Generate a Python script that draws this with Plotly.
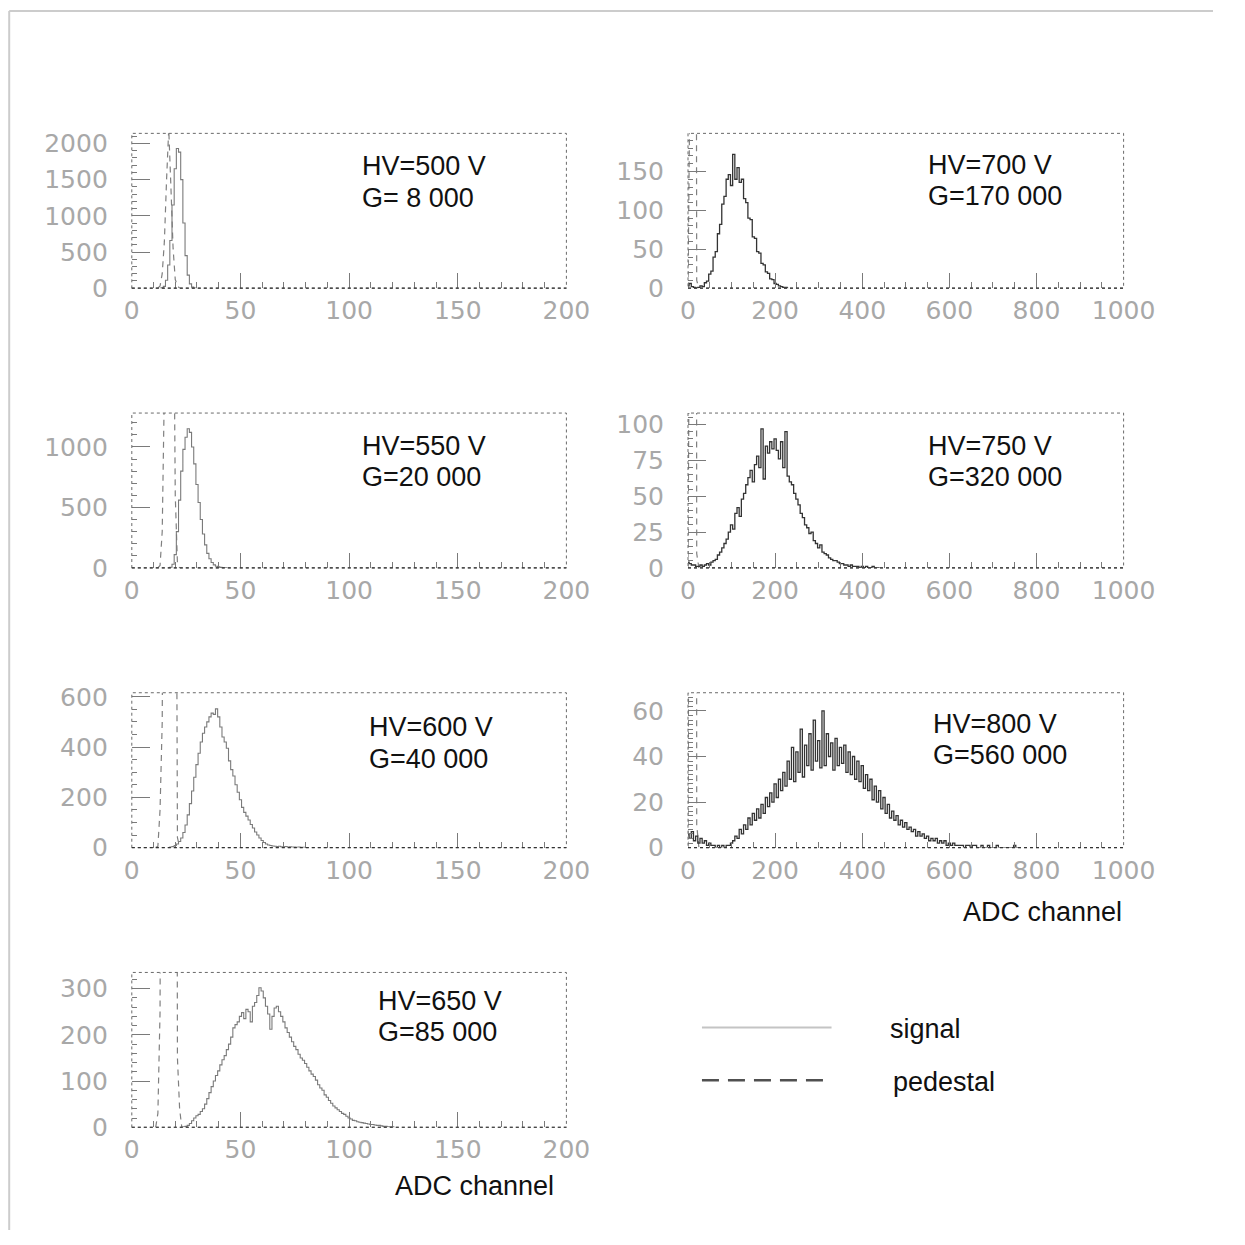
import plotly.graph_objects as go

W, H = 1245, 1245

# ---------------- data (counts per bin) ----------------
# left panels: 1-channel bins ; right panels: 5-channel bins
sig500_start = 13
sig500 = [0, 5, 25, 110, 320, 660, 1150, 1650, 1930, 1880, 1500, 900, 450, 180, 60, 15, 3, 0]
ped500_start = 12
ped500 = [0, 30, 200, 650, 1500, 2200, 1400, 550, 120, 30, 0]

sig550_start = 17
sig550 = [0, 5, 30, 110, 300, 560, 800, 980, 1080, 1150, 1120, 1000, 860, 690, 540, 400, 280, 190,
          120, 75, 45, 25, 14, 8, 4, 2, 1, 0]
ped550_start = 12
ped550 = [0, 20, 300, 1500, 4000, 6000, 5500, 3000, 600, 40, 0]

sig600_start = 17
sig600 = [0, 2, 4, 8, 14, 24, 38, 60, 90, 130, 175, 225, 280, 330, 375, 420, 455, 480, 500, 520, 535,
          530, 552, 520, 480, 440, 420, 395, 345, 310, 285, 250, 220, 190, 160, 140, 125, 110, 92,
          78, 62, 50, 38, 28, 20, 14, 10, 8, 6, 5, 4, 5, 3, 3, 4, 2, 3, 2, 2, 1, 2, 1, 1, 0]
ped600_start = 11
ped600 = [0, 5, 150, 500, 2500, 6000, 7000, 6000, 4000, 2500, 40, 0]

sig650_start = 23
sig650 = [0, 1, 2, 4, 8, 14, 20, 25, 28, 34, 40, 50, 62, 75, 88, 100, 112, 122, 135, 146, 155, 168,
          180, 195, 215, 222, 228, 240, 248, 235, 255, 250, 228, 262, 270, 285, 302, 295, 280, 262,
          245, 212, 240, 258, 262, 250, 240, 228, 215, 205, 195, 185, 175, 168, 158, 150, 145, 138,
          130, 122, 115, 110, 102, 92, 85, 80, 70, 65, 58, 52, 46, 42, 38, 34, 30, 28, 24, 20, 18,
          15, 14, 12, 11, 10, 9, 8, 7, 6, 6, 5, 4, 4, 3, 2, 2, 1, 1, 1, 0]
ped650_start = 11
ped650 = [0, 30, 250, 2000, 5000, 7000, 7000, 6000, 4500, 3000, 150, 40, 0]

sig700 = [3, 6, 2, 1, 0, 1, 3, 2, 7, 9, 18, 22, 40, 47, 70, 82, 108, 118, 140, 146, 132, 172, 140,
          155, 136, 140, 115, 110, 90, 88, 66, 64, 47, 45, 32, 30, 21, 19, 12, 11, 6, 5, 3, 2, 1, 1, 0]
sig750 = [4, 3, 2, 2, 1, 1, 2, 1, 2, 3, 2, 4, 5, 6, 9, 11, 14, 17, 20, 25, 30, 27, 38, 42, 36, 48,
          52, 58, 63, 68, 60, 72, 78, 70, 97, 62, 85, 80, 88, 83, 90, 82, 76, 88, 70, 95, 64, 60,
          58, 52, 48, 44, 38, 35, 30, 28, 24, 25, 19, 17, 14, 16, 11, 10, 9, 7, 6, 5, 5, 4, 3, 3,
          2, 2, 1, 2, 1, 1, 1, 0, 1, 0, 1, 0, 0, 1, 0, 0, 0]
sig800 = [6, 4, 7, 3, 5, 2, 4, 2, 3, 1, 2, 1, 1, 0, 1, 0, 1, 0, 1, 1, 2, 3, 5, 4, 8, 6, 10, 8, 13,
          10, 15, 12, 17, 13, 19, 15, 22, 18, 24, 20, 28, 22, 30, 25, 33, 27, 38, 30, 44, 29, 42,
          33, 52, 31, 45, 36, 50, 34, 56, 38, 47, 35, 60, 36, 50, 40, 46, 34, 48, 36, 44, 37, 45,
          33, 42, 32, 40, 30, 38, 29, 36, 26, 32, 25, 30, 21, 27, 20, 25, 17, 22, 15, 19, 13, 16,
          12, 14, 10, 12, 9, 11, 8, 9, 7, 8, 5, 7, 5, 6, 4, 5, 3, 4, 3, 4, 2, 3, 2, 3, 1, 2, 1, 2,
          1, 1, 1, 1, 0, 1, 1, 0, 1, 1, 0, 0, 1, 0, 0, 1, 0, 0, 0, 1, 0, 0, 0, 0, 0, 0, 0, 1, 0, 0]
ped_right_start = 0
ped_right = [0, 300, 6000, 2000, 10, 0]
right_bin = 5

hv_labels = ["HV=500 V", "HV=700 V", "HV=550 V", "HV=750 V", "HV=600 V", "HV=800 V", "HV=650 V"]
g_labels = ["G= 8 000", "G=170 000", "G=20 000", "G=320 000", "G=40 000", "G=560 000", "G=85 000"]
y_max = [2140, 199, 1280, 108, 616, 68, 335]
y_dtick = [500, 50, 500, 25, 200, 20, 100]
y_minor = [100, 10, 100, 5, 50, 2, 20]
x_max = [200, 1000, 200, 1000, 200, 1000, 200]
x_dtick = [50, 200, 50, 200, 50, 200, 50]
x_minor = [10, 50, 10, 50, 10, 50, 10]
axis_title = "ADC channel"
legend_names = ["signal", "pedestal"]

# ---------------- layout geometry (target picture pixels) ----------------
col_x = [(131, 567), (689, 1126)]
row_y = [(133, 288), (413, 568), (693, 848), (973, 1128)]
text_pos = [(360, 166, 198), (928, 165, 196), (360, 446, 477), (928, 446, 477),
            (367, 727, 759), (933, 724, 755), (376, 1002, 1033)]

# the page is photographed slightly scaled/offset; map target pixels to figure pixels
SX, OX = 0.971, 6.8
SY, OY = 0.981, 9.5


def px(x):
    return ((x - OX) / SX) / W


def py(y):
    fy = max((y - OY) / SY, 1.0)
    return 1 - fy / H


panels = [
    (sig500_start, 1, sig500, ped500_start, 1, ped500),
    (0, right_bin, sig700, ped_right_start, right_bin, ped_right),
    (sig550_start, 1, sig550, ped550_start, 1, ped550),
    (0, right_bin, sig750, ped_right_start, right_bin, ped_right),
    (sig600_start, 1, sig600, ped600_start, 1, ped600),
    (0, right_bin, sig800, ped_right_start, right_bin, ped_right),
    (sig650_start, 1, sig650, ped650_start, 1, ped650),
]

fig = go.Figure()
shapes = []
annotations = []
tickfont = dict(family="DejaVu Sans", size=25, color="#a8a8a8")
txtfont = dict(family="Liberation Sans, Arial", size=27, color="#111111")

for i, (s0, sb, sig, p0, pb, ped) in enumerate(panels):
    n = i + 1
    row, col = i // 2, i % 2
    xs = "x" if n == 1 else f"x{n}"
    ys = "y" if n == 1 else f"y{n}"
    right = col == 1
    sig_x = [s0 + k * sb for k in range(len(sig))]
    ped_x = [p0 + k * pb for k in range(len(ped))]
    fig.add_trace(go.Scatter(x=ped_x, y=ped, mode="lines", xaxis=xs, yaxis=ys,
                             line=dict(color="#808080", width=1.2, dash="6px,5px"),
                             showlegend=False, hoverinfo="skip"))
    fig.add_trace(go.Scatter(x=sig_x, y=sig, mode="lines", xaxis=xs, yaxis=ys,
                             line=dict(color="#333333" if right else "#7a7a7a",
                                       width=1.3 if right else 1.1, shape="hvh"),
                             showlegend=False, hoverinfo="skip"))
    x0, x1 = col_x[col]
    y0, y1 = row_y[row]
    xa = dict(domain=[px(x0), px(x1)], range=[0, x_max[i]], anchor=ys,
              showgrid=False, zeroline=False, showline=False,
              ticks="inside", tickmode="linear", tick0=0, dtick=x_dtick[i],
              ticklen=15, tickwidth=1, tickcolor="#7a7a7a",
              minor=dict(ticks="inside", dtick=x_minor[i], ticklen=6, tickwidth=1,
                         tickcolor="#7a7a7a", showgrid=False),
              tickfont=tickfont, ticklabelstandoff=5, fixedrange=True)
    ya = dict(domain=[py(y1), py(y0)], range=[0, y_max[i]], anchor=xs,
              showgrid=False, zeroline=False, showline=False,
              ticks="inside", tickmode="linear", tick0=0, dtick=y_dtick[i],
              ticklen=18, tickwidth=1, tickcolor="#7a7a7a",
              minor=dict(ticks="inside", dtick=y_minor[i], ticklen=5, tickwidth=1,
                         tickcolor="#7a7a7a", showgrid=False),
              tickfont=tickfont, ticklabelstandoff=23, fixedrange=True)
    fig.layout["xaxis" if n == 1 else f"xaxis{n}"] = xa
    fig.layout["yaxis" if n == 1 else f"yaxis{n}"] = ya
    # dotted frame
    shapes.append(dict(type="rect", xref=f"{xs} domain", yref=f"{ys} domain",
                       x0=0, x1=1, y0=0, y1=1,
                       line=dict(color="#6a6a6a", width=1, dash="dot"), layer="above"))
    shapes.append(dict(type="line", xref=f"{xs} domain", yref=f"{ys} domain",
                       x0=0, x1=1, y0=0, y1=0,
                       line=dict(color="#333333", width=1.2, dash="dot"), layer="above"))
    tx, ty1, ty2 = text_pos[i]
    annotations.append(dict(text=hv_labels[i], x=px(tx), y=py(ty1), xref="paper", yref="paper",
                            xanchor="left", yanchor="middle", showarrow=False, font=txtfont))
    annotations.append(dict(text=g_labels[i], x=px(tx), y=py(ty2), xref="paper", yref="paper",
                            xanchor="left", yanchor="middle", showarrow=False, font=txtfont))

# axis titles
annotations.append(dict(text=axis_title, x=px(1126), y=py(912), xref="paper", yref="paper",
                        xanchor="right", yanchor="middle", showarrow=False, font=txtfont))
annotations.append(dict(text=axis_title, x=px(557), y=py(1187), xref="paper", yref="paper",
                        xanchor="right", yanchor="middle", showarrow=False, font=txtfont))

# legend (drawn)
shapes.append(dict(type="line", xref="paper", yref="paper", x0=px(703), x1=px(833),
                   y0=py(1028), y1=py(1028), line=dict(color="#c4c4c4", width=2)))
shapes.append(dict(type="line", xref="paper", yref="paper", x0=px(703), x1=px(833),
                   y0=py(1081), y1=py(1081), line=dict(color="#505050", width=2.5,
                                                       dash="17px,9px")))
annotations.append(dict(text=legend_names[0], x=px(890), y=py(1030), xref="paper", yref="paper",
                        xanchor="left", yanchor="middle", showarrow=False, font=txtfont))
annotations.append(dict(text=legend_names[1], x=px(893), y=py(1083), xref="paper", yref="paper",
                        xanchor="left", yanchor="middle", showarrow=False, font=txtfont))

# page frame (top and left)
shapes.append(dict(type="line", xref="paper", yref="paper", x0=px(8), x1=1, y0=py(8), y1=py(8),
                   line=dict(color="#cccccc", width=2)))
shapes.append(dict(type="line", xref="paper", yref="paper", x0=px(8), x1=px(8), y0=0, y1=py(8),
                   line=dict(color="#cccccc", width=2)))

fig.update_layout(width=W, height=H, margin=dict(l=0, r=0, t=0, b=0),
                  paper_bgcolor="white", plot_bgcolor="white",
                  shapes=shapes, annotations=annotations, showlegend=False)

fig.write_html("out.html")
